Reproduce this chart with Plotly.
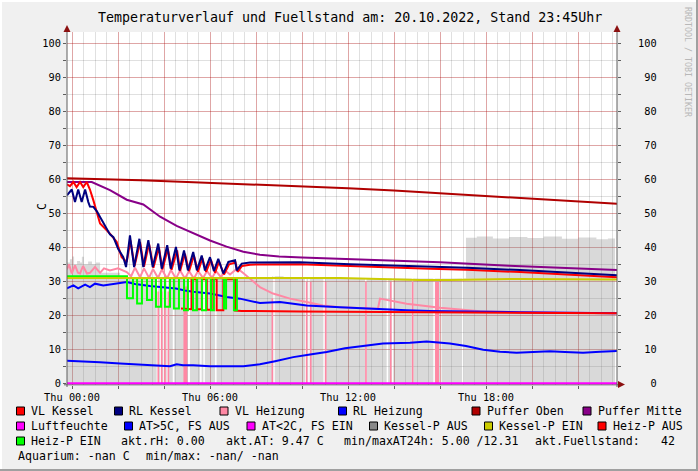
import plotly.graph_objects as go

# ---------------- data (time in hours of 20.10.2022, values in deg C) ----------------
puffer_oben_t = [-0.22, 1, 3, 5, 8, 10, 12, 14, 16, 18, 20, 22, 23.7]
puffer_oben_v = [60.3, 60.1, 59.7, 59.2, 58.5, 58.0, 57.4, 56.7, 55.9, 55.1, 54.3, 53.5, 52.8]

puffer_mitte_t = [-0.22, 0.86, 1.65, 2.38, 3.1, 3.83, 4.55, 5.27, 6.0, 6.72, 7.45, 8.17, 9.0, 10.0, 13.0, 16.0, 19.0, 22.0, 23.7]
puffer_mitte_v = [59.2, 59.2, 56.8, 54.0, 52.6, 49.0, 46.3, 44.2, 42.0, 40.2, 38.7, 37.8, 37.3, 37.0, 36.3, 35.6, 34.6, 33.8, 33.3]

rl_kessel_t = [-0.22, -0.01, 0.13, 0.27, 0.42, 0.57, 0.71, 0.78, 0.93, 1.09, 1.22, 1.51, 1.65, 1.80, 2.01, 2.23, 2.35,
               2.52, 2.70, 2.93, 3.10, 3.32, 3.51, 3.75, 3.90, 4.14, 4.29, 4.52, 4.67, 4.87, 5.04, 5.27, 5.43, 5.64,
               5.78, 6.00, 6.17, 6.36, 6.58, 6.80, 7.09, 7.16, 7.38, 7.74, 9.91, 12.09, 14.26, 15.57, 17.17, 19.48,
               21.65, 23.70]
rl_kessel_v = [55.3, 57.0, 53.3, 57.0, 53.3, 57.0, 53.3, 52.0, 51.9, 50.5, 48.9, 45.5, 43.8, 43.0, 39.5, 37.1, 34.2,
               43.5, 34.2, 42.5, 34.2, 42.1, 34.2, 41.1, 33.7, 40.6, 33.7, 40.1, 33.2, 39.1, 33.2, 38.6, 33.2, 37.6,
               33.2, 37.1, 33.0, 36.6, 32.3, 35.7, 36.2, 33.2, 35.2, 35.5, 35.6, 35.0, 34.6, 34.3, 34.0, 33.3,
               32.6, 31.8]

vl_kessel_t = [-0.22, -0.09, 0.06, 0.20, 0.35, 0.49, 0.64, 0.78, 0.93, 1.22, 1.51, 1.65, 1.94, 2.16, 2.38, 2.54,
               2.72, 2.96, 3.13, 3.35, 3.54, 3.78, 3.93, 4.17, 4.33, 4.57, 4.70, 4.91, 5.09, 5.30, 5.48, 5.67, 5.83,
               6.04, 6.22, 6.39, 6.61, 6.83, 7.11, 7.20, 7.39, 7.74, 9.91, 12.09, 14.26, 15.57, 17.17, 19.48, 21.65,
               23.70]
vl_kessel_v = [58.5, 58.0, 59.2, 57.7, 59.2, 57.7, 59.2, 57.0, 53.8, 47.0, 45.0, 44.0, 41.6, 37.1, 35.7, 42.0,
               34.5, 41.5, 34.3, 41.0, 34.0, 40.0, 33.5, 39.6, 33.4, 39.1, 33.0, 38.1, 33.0, 37.6, 32.8, 36.8, 32.8,
               36.3, 32.5, 35.8, 32.0, 35.0, 35.5, 32.8, 34.5, 34.9, 35.0, 34.4, 34.0, 33.7, 33.4, 32.7, 32.0,
               31.2]

vl_heizung_t = [-0.22, -0.13, -0.01, 0.13, 0.26, 0.35, 0.48, 0.65, 0.78, 1.00, 1.22, 1.39, 1.65, 2.00, 2.38, 2.57,
                2.74, 2.96, 3.13, 3.35, 3.52, 3.74, 3.91, 4.13, 4.30, 4.52, 4.70, 4.91, 5.09, 5.30, 5.48, 5.70,
                5.87, 6.09, 6.26, 6.48, 6.65, 6.87, 7.13, 7.30, 7.43, 7.74, 8.17, 8.74, 9.48, 10.20, 10.91, 11.65,
                13.30, 13.39, 14.55, 16.00, 16.87, 17.74, 19.48, 23.70]
vl_heizung_v = [33.5, 35.0, 32.3, 34.7, 32.5, 32.3, 34.5, 32.3, 32.5, 34.2, 32.5, 33.8, 33.2, 33.8, 32.7, 31.5,
                34.0, 31.2, 33.8, 31.0, 33.6, 31.0, 33.5, 30.8, 33.3, 30.8, 33.2, 30.8, 33.0, 30.8, 33.0, 31.0,
                33.0, 31.0, 33.0, 31.2, 33.2, 32.0, 33.5, 33.2, 32.5, 30.8, 28.3, 26.4, 24.9, 23.9, 22.9, 22.4,
                21.9, 24.9, 23.4, 22.2, 21.6, 21.2, 20.9, 20.6]

rl_heizung_t = [-0.22, 0.06, 0.27, 0.57, 0.78, 1.00, 1.36, 1.80, 2.09, 2.38, 2.74, 3.10, 3.39, 3.83, 4.26, 4.52,
                4.91, 5.27, 6.00, 6.73, 7.30, 8.17, 9.04, 10.20, 11.65, 13.10, 14.55, 15.57, 16.87, 19.48, 23.70]
rl_heizung_v = [27.9, 28.8, 27.9, 29.0, 28.3, 29.3, 28.8, 29.3, 29.6, 29.8, 29.2, 28.8, 28.6, 28.3, 28.1, 27.9,
                27.3, 26.9, 26.4, 25.4, 24.9, 23.6, 23.9, 22.9, 22.4, 21.9, 21.5, 21.3, 21.1, 20.9, 20.6]

aussen_t = [-0.22, 0.35, 1.22, 2.09, 2.96, 3.83, 4.26, 4.55, 4.83, 5.27, 6.00, 7.45, 8.17, 8.83, 9.62, 10.35, 11.07,
            11.87, 12.52, 13.52, 14.70, 15.42, 16.43, 17.13, 17.88, 18.61, 19.33, 20.13, 20.78, 21.43, 22.22, 22.96,
            23.70]
aussen_v = [6.6, 6.5, 6.2, 5.8, 5.4, 5.0, 5.0, 5.6, 5.3, 5.3, 5.0, 5.0, 5.6, 6.5, 7.7, 8.5, 9.2,
            10.3, 10.9, 11.7, 11.9, 12.3, 11.7, 11.0, 9.9, 9.3, 9.0, 9.2, 9.4, 9.2, 9.0, 9.3,
            9.5]

luftfeuchte_t = [-0.22, 23.70]
luftfeuchte_v = [0.0, 0.0]

kessel_p_ein_t = [-0.22, 2.30, 5.65, 8.17, 9.91, 11.65, 13.39, 15.13, 16.43, 17.74, 19.48, 21.22, 23.70]
kessel_p_ein_v = [31.0, 31.0, 30.8, 30.8, 30.9, 31.0, 30.7, 30.4, 30.4, 30.6, 30.7, 30.6, 30.5]

heiz_p_ein_t = [-0.22, 2.39, 2.39, 2.65, 2.65, 2.83, 2.83, 3.04, 3.04, 3.26, 3.26, 3.48, 3.48, 3.65, 3.65, 3.87,
                3.87, 4.04, 4.04, 4.26, 4.26, 4.43, 4.43, 4.65, 4.65, 4.87, 4.87, 5.04, 5.04, 5.26, 5.26, 5.43,
                5.43, 5.65, 5.65, 5.83, 5.83, 6.04, 6.04, 6.17, 6.17, 6.61, 6.61, 6.70, 6.70, 7.04, 7.04, 7.17, 7.17]
heiz_p_ein_v = [31.5, 31.5, 25.0, 25.0, 30.9, 30.9, 23.5, 23.5, 30.9, 30.9, 24.5, 24.5, 30.9, 30.9, 22.5, 22.5,
                30.9, 30.9, 22.5, 22.5, 30.9, 30.9, 22.0, 22.0, 30.9, 30.9, 21.5, 21.5, 30.9, 30.9, 21.5, 21.5,
                30.9, 30.9, 21.5, 21.5, 30.9, 30.9, 21.5, 21.5, 30.9, 30.9, 22.0, 22.0, 30.9, 30.9, 21.5, 21.5, 30.9]

heiz_p_aus_t = [4.74, 5.20, 5.20, 5.42, 5.42, 5.64, 5.64, 5.86, 5.86, 6.07, 6.07, 6.29, 6.29, 6.58, 6.58, 7.09,
                7.09, 7.38, 9.91, 12.52, 16.87, 23.70]
heiz_p_aus_v = [22.0, 21.8, 30.6, 30.6, 21.8, 21.8, 30.6, 30.6, 21.6, 21.6, 30.6, 30.6, 21.5, 21.5, 30.6, 30.6,
                21.4, 21.3, 21.1, 21.0, 20.9, 20.6]

# Kessel-P AUS area: step levels, plus short dropouts
kessel_p_aus_t = [-0.22, -0.09, 0.00, 0.09, 0.22, 0.35, 0.43, 0.52, 0.70, 0.87, 1.04, 1.22, 2.09, 8.70, 9.20,
                  17.13, 17.60, 18.30, 19.00, 19.80, 20.50, 21.30, 22.00, 22.80, 23.30, 23.61]
kessel_p_aus_v = [35.5, 36.5, 37.3, 35.0, 36.0, 35.5, 37.2, 35.0, 35.8, 35.0, 35.5, 32.5, 30.8, 31.5, 30.8,
                  42.8, 43.2, 42.6, 43.0, 42.7, 43.2, 42.5, 42.9, 42.4, 42.6, 0.0]
kessel_p_aus_gap_t = [3.68, 3.83, 3.97, 4.12, 4.38, 5.04, 5.57, 5.71, 6.22, 8.75, 10.13, 10.27, 10.93, 12.74,
                      13.68, 13.90, 14.77, 15.71, 16.00, 16.96]
kessel_p_aus_gap_w = [0.065, 0.065, 0.065, 0.065, 0.065, 0.09, 0.065, 0.065, 0.065, 0.065, 0.065, 0.065, 0.065,
                      0.065, 0.065, 0.065, 0.065, 0.065, 0.065, 0.065]

# short VL Heizung pulses (pink bars)
vl_puls_t = [3.75, 3.90, 4.04, 4.19, 4.93, 8.71, 10.20, 10.38, 11.03, 12.78, 13.86, 14.81, 15.87]
vl_puls_v = [27.0, 27.0, 27.0, 27.0, 28.5, 25.0, 29.8, 29.8, 29.8, 29.8, 29.8, 29.8, 29.8]
vl_puls_w = [0.07, 0.07, 0.07, 0.07, 0.17, 0.07, 0.07, 0.07, 0.07, 0.07, 0.07, 0.07, 0.17]

x_tick_vals = [0, 2, 4, 6, 8, 10, 12, 14, 16, 18, 20, 22]
x_tick_text = ["Thu 00:00", "", "", "Thu 06:00", "", "", "Thu 12:00", "", "", "Thu 18:00", "", ""]
y_tick_vals = [0, 10, 20, 30, 40, 50, 60, 70, 80, 90, 100]

title_text = "Temperaturverlauf und Fuellstand am: 20.10.2022, Stand 23:45Uhr"

# ---------------- colours ----------------
C_VLK = "#ff0000"; C_RLK = "#000080"; C_VLH = "#ff88a4"; C_RLH = "#0000ff"
C_PO = "#b00000"; C_PM = "#880088"; C_LF = "#ff00ff"; C_AT = "#0000ff"; C_AT2 = "#ff00ff"
C_KA = "#888888"; C_KE = "#cccc00"; C_HA = "#ff0000"; C_HE = "#00ff00"

# ---------------- geometry helpers ----------------
W, H = 698, 471
PL, PR, PT, PB = 67, 617, 32, 385
X0 = -5 / 23.0
X1 = X0 + (PR - PL) / 23.0
Y0 = -(PB - 383.3) / 3.4
Y1 = (383.3 - PT) / 3.4


def xp(px):
    return (px - PL) / (PR - PL)


def yp(py):
    return (PB - py) / (PB - PT)


# ---------------- build area with dropouts ----------------
def level_at(t):
    lv = kessel_p_aus_v[0]
    for tt, vv in zip(kessel_p_aus_t, kessel_p_aus_v):
        if tt <= t:
            lv = vv
    return lv


pts = list(zip(kessel_p_aus_t, kessel_p_aus_v))
for g, w in zip(kessel_p_aus_gap_t, kessel_p_aus_gap_w):
    pts.append((g, 0.0))
    pts.append((g + w, level_at(g)))
pts.sort(key=lambda p: p[0])
area_t = [p[0] for p in pts]
area_v = [p[1] for p in pts]

# pink pulses as rectangles
puls_x, puls_y = [], []
for t, v, w in zip(vl_puls_t, vl_puls_v, vl_puls_w):
    puls_x += [t - w / 2, t - w / 2, t + w / 2, t + w / 2, None]
    puls_y += [0, v, v, 0, None]

fig = go.Figure()


def line(t, v, color, width=2, shape="linear"):
    fig.add_trace(go.Scatter(x=t, y=v, mode="lines", line=dict(color=color, width=width, shape=shape),
                             hoverinfo="skip", showlegend=False))


fig.add_trace(go.Scatter(x=area_t, y=area_v, mode="lines", line=dict(width=0, shape="hv"),
                         fill="tozeroy", fillcolor="rgba(128,128,128,0.30)", hoverinfo="skip", showlegend=False))
fig.add_trace(go.Scatter(x=puls_x, y=puls_y, mode="lines", line=dict(width=0), fill="toself",
                         fillcolor=C_VLH, hoverinfo="skip", showlegend=False))
line(luftfeuchte_t, luftfeuchte_v, C_LF)
line(puffer_oben_t, puffer_oben_v, C_PO)
line(puffer_mitte_t, puffer_mitte_v, C_PM)
line(vl_heizung_t, vl_heizung_v, C_VLH)
line(rl_heizung_t, rl_heizung_v, C_RLH)
line(aussen_t, aussen_v, C_AT)
line(heiz_p_aus_t, heiz_p_aus_v, C_HA)
line(heiz_p_ein_t, heiz_p_ein_v, C_HE)
line(kessel_p_ein_t, kessel_p_ein_v, C_KE)
line(vl_kessel_t, vl_kessel_v, C_VLK)
line(rl_kessel_t, rl_kessel_v, C_RLK)
# helper trace so the right axis is rendered
fig.add_trace(go.Scatter(x=[None], y=[None], yaxis="y2", mode="lines", hoverinfo="skip", showlegend=False))

GRID_MAJ = "rgba(222,0,0,0.26)"
GRID_MIN = "rgba(0,0,0,0.12)"
AXC = "#5e5e5e"
NB = "\u00a0"

fig.update_layout(
    width=W, height=H,
    margin=dict(l=PL, r=W - PR, t=PT, b=H - PB, pad=0),
    paper_bgcolor="#f0f0f0", plot_bgcolor="#ffffff", showlegend=False,
    font=dict(family="DejaVu Sans Mono", size=10.3, color="#000000"),
    xaxis=dict(range=[X0, X1], tickmode="array", tickvals=x_tick_vals, ticktext=x_tick_text,
               showgrid=True, gridcolor=GRID_MAJ, gridwidth=1, zeroline=False, showline=False,
               ticks="outside", ticklen=3, tickcolor=AXC,
               minor=dict(tickmode="linear", tick0=0, dtick=0.5, showgrid=True, gridcolor=GRID_MIN, ticks=""),
               tickfont=dict(size=10.3)),
    yaxis=dict(range=[Y0, Y1], tickmode="array", tickvals=y_tick_vals,
               ticktext=[str(v) for v in y_tick_vals],
               showgrid=True, gridcolor=GRID_MAJ, zeroline=False, showline=False,
               ticks="outside", ticklen=3, tickcolor=AXC,
               minor=dict(tickmode="linear", tick0=0, dtick=5, showgrid=True, gridcolor=GRID_MIN,
                          ticks="outside", ticklen=3, tickcolor=AXC),
               tickfont=dict(size=10.3)),
    yaxis2=dict(range=[Y0, Y1], overlaying="y", side="right", tickmode="array", tickvals=y_tick_vals,
                ticktext=[NB * (3 - len(str(v))) + str(v) for v in y_tick_vals],
                showgrid=False, zeroline=False, showline=False,
                ticks="outside", ticklen=3, tickcolor=AXC, ticklabelstandoff=15,
                minor=dict(tickmode="linear", tick0=0, dtick=5, ticks="outside", ticklen=3, tickcolor=AXC),
                tickfont=dict(size=10.3)),
)

shapes = []
# axis lines
shapes.append(dict(type="line", xref="paper", yref="paper", x0=xp(67), x1=xp(67), y0=yp(387), y1=yp(29),
                   line=dict(color=AXC, width=1), layer="above"))
shapes.append(dict(type="line", xref="paper", yref="paper", x0=xp(617), x1=xp(617), y0=yp(387), y1=yp(29),
                   line=dict(color=AXC, width=1), layer="above"))
shapes.append(dict(type="line", xref="paper", yref="paper", x0=xp(64), x1=xp(620), y0=yp(384.8), y1=yp(384.8),
                   line=dict(color=AXC, width=1), layer="below"))
ARC = "#8b1010"
for ax in (67, 617):
    shapes.append(dict(type="path", xref="paper", yref="paper",
                       path=f"M {xp(ax)} {yp(25)} L {xp(ax - 3.5)} {yp(32)} L {xp(ax + 3.5)} {yp(32)} Z",
                       fillcolor=ARC, line=dict(width=0), layer="above"))
shapes.append(dict(type="path", xref="paper", yref="paper",
                   path=f"M {xp(625)} {yp(384.5)} L {xp(618)} {yp(381)} L {xp(618)} {yp(388)} Z",
                   fillcolor=ARC, line=dict(width=0), layer="above"))
# frame shading
shapes.append(dict(type="rect", xref="paper", yref="paper", x0=xp(0), x1=xp(698), y0=yp(471), y1=yp(469),
                   fillcolor="#a0a0a0", line=dict(width=0)))
shapes.append(dict(type="rect", xref="paper", yref="paper", x0=xp(696), x1=xp(698), y0=yp(471), y1=yp(0),
                   fillcolor="#a0a0a0", line=dict(width=0)))
shapes.append(dict(type="rect", xref="paper", yref="paper", x0=xp(0), x1=xp(696), y0=yp(2), y1=yp(0),
                   fillcolor="#ffffff", line=dict(width=0)))
shapes.append(dict(type="rect", xref="paper", yref="paper", x0=xp(0), x1=xp(2), y0=yp(469), y1=yp(0),
                   fillcolor="#ffffff", line=dict(width=0)))

annotations = []
LFONT = dict(family="DejaVu Sans Mono", size=11.6, color="#000000")


def text(px, py, s, font=LFONT, xanchor="left", angle=0):
    annotations.append(dict(xref="paper", yref="paper", x=xp(px), y=yp(py), text=s, showarrow=False,
                            xanchor=xanchor, yanchor="middle", font=font, textangle=angle, borderpad=0))


text(349.5, 17, title_text, font=dict(family="DejaVu Sans Mono", size=13.3, color="#000000"), xanchor="center")
text(42, 207, "C", xanchor="center", angle=-90)
text(688, 62, "RRDTOOL / TOBI OETIKER", font=dict(family="DejaVu Sans Mono", size=8.3, color="#b8b8b8"),
     xanchor="center", angle=90)

legend_rows = [
    (411, [("VL Kessel", C_VLK, 16.5), ("RL Kessel", C_RLK, 114.5), ("VL Heizung", C_VLH, 220),
           ("RL Heizung", C_RLH, 338.5), ("Puffer Oben", C_PO, 472), ("Puffer Mitte", C_PM, 583)]),
    (426, [("Luftfeuchte", C_LF, 16.5), ("AT>5C, FS AUS", C_AT, 124.5), ("AT<2C, FS EIN", C_AT2, 247),
           ("Kessel-P AUS", C_KA, 369.5), ("Kessel-P EIN", C_KE, 484.5), ("Heiz-P AUS", C_HA, 598)]),
    (441, [("Heiz-P EIN", C_HE, 16.5)]),
]
for ry, items in legend_rows:
    for label, col, sx in items:
        shapes.append(dict(type="rect", xref="paper", yref="paper", x0=xp(sx), x1=xp(sx + 8),
                           y0=yp(ry + 4), y1=yp(ry - 4), fillcolor=col, line=dict(color="#000000", width=1),
                           layer="above"))
        text(sx + 13.5, ry, label)

info_texts = [(120, 441, "akt.rH: 0.00"), (225, 441, "akt.AT: 9.47 C"), (343, 441, "min/maxAT24h: 5.00 /12.31"),
              (534, 441, "akt.Fuellstand:"), (660, 441, "42"),
              (16.5, 456, "Aquarium: -nan C"), (145, 456, "min/max: -nan/ -nan")]
for px, py, s in info_texts:
    text(px, py, s)

fig.update_layout(shapes=shapes, annotations=annotations)
fig.write_html("out.html", config={"displayModeBar": False, "staticPlot": True},
               post_script="document.body.style.margin='0';document.body.style.overflow='hidden';")
